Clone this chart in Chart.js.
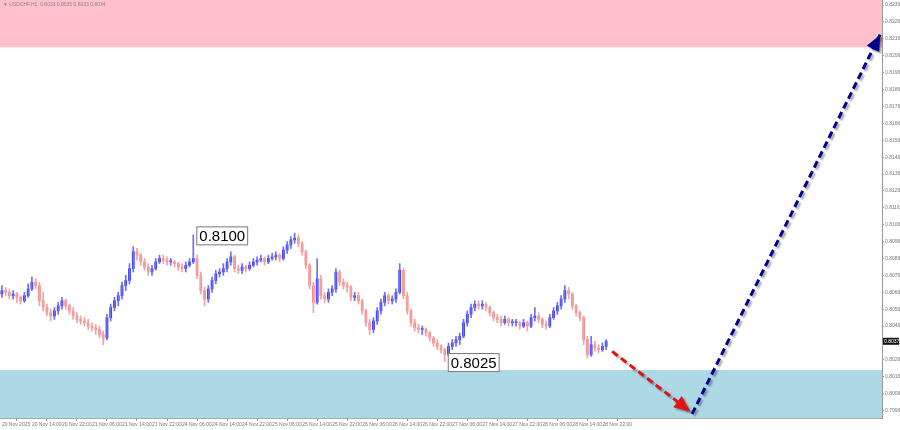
<!DOCTYPE html>
<html>
<head>
<meta charset="utf-8">
<script src="https://cdn.jsdelivr.net/npm/chart.js@4.4.1/dist/chart.umd.min.js"></script>
<style>
  body { margin: 0; background: #fff; }
  #wrap { width: 900px; height: 430px; }
</style>
</head>
<body>
<div id="wrap"><canvas id="myChart" width="900" height="430"></canvas></div>
<script>
// USDCHF H1 candles
const firstOpen = 0.8065;
const closes = [
  0.8067, 0.8066, 0.8064, 0.8065, 0.8063, 0.8061, 0.8064, 0.8068, 0.8072, 0.8070,
  0.8061, 0.8057, 0.8054, 0.8052, 0.8055, 0.8058, 0.8061, 0.8058, 0.8055, 0.8052,
  0.8050, 0.8049, 0.8048, 0.8046, 0.8045, 0.8044, 0.8041, 0.8039, 0.8051, 0.8057,
  0.8061, 0.8064, 0.8070, 0.8073, 0.8080, 0.8090, 0.8088, 0.8084, 0.8081, 0.8078,
  0.8080, 0.8084, 0.8086, 0.8085, 0.8084, 0.8084, 0.8083, 0.8081, 0.8080, 0.8082,
  0.8084, 0.8086, 0.8076, 0.8067, 0.8062, 0.8068, 0.8073, 0.8077, 0.8078, 0.8080,
  0.8084, 0.8087, 0.8080, 0.8079, 0.8081, 0.8080, 0.8082, 0.8084, 0.8085, 0.8086,
  0.8084, 0.8086, 0.8087, 0.8088, 0.8086, 0.8091, 0.8094, 0.8097, 0.8098, 0.8095,
  0.8090, 0.8082, 0.8070, 0.8060, 0.8074, 0.8064, 0.8062, 0.8066, 0.8068, 0.8078,
  0.8072, 0.8070, 0.8069, 0.8063, 0.8064, 0.8061, 0.8055, 0.8048, 0.8044, 0.8049,
  0.8055, 0.8060, 0.8064, 0.8061, 0.8062, 0.8066, 0.8079, 0.8064, 0.8055, 0.8048,
  0.8045, 0.8044, 0.8044, 0.8042, 0.8039, 0.8036, 0.8034, 0.8032, 0.8029, 0.8034,
  0.8036, 0.8038, 0.8040, 0.8048, 0.8053, 0.8057, 0.8059, 0.8058, 0.8059, 0.8057,
  0.8054, 0.8051, 0.8050, 0.8048, 0.8050, 0.8048, 0.8048, 0.8048, 0.8046, 0.8048,
  0.8046, 0.8051, 0.8052, 0.8050, 0.8047, 0.8046, 0.8051, 0.8055, 0.8058, 0.8062,
  0.8067, 0.8065, 0.8058, 0.8054, 0.8051, 0.8038, 0.8029, 0.8035, 0.8033, 0.8032,
  0.8034, 0.8037
];
const highs = [
  0.8070, 0.8069, 0.8068, 0.8067, 0.8066, 0.8064, 0.8066, 0.8071, 0.8075, 0.8074,
  0.8072, 0.8066, 0.8059, 0.8056, 0.8057, 0.8060, 0.8063, 0.8062, 0.8059, 0.8057,
  0.8054, 0.8052, 0.8051, 0.8050, 0.8048, 0.8047, 0.8046, 0.8043, 0.8053, 0.8059,
  0.8063, 0.8066, 0.8072, 0.8076, 0.8083, 0.8093, 0.8092, 0.8089, 0.8086, 0.8083,
  0.8082, 0.8086, 0.8088, 0.8088, 0.8087, 0.8086, 0.8085, 0.8084, 0.8083, 0.8084,
  0.8086, 0.8100, 0.8088, 0.8078, 0.8069, 0.8070, 0.8075, 0.8079, 0.8080, 0.8083,
  0.8086, 0.8090, 0.8088, 0.8082, 0.8083, 0.8082, 0.8084, 0.8086, 0.8087, 0.8088,
  0.8087, 0.8088, 0.8089, 0.8090, 0.8089, 0.8093, 0.8096, 0.8099, 0.8101, 0.8100,
  0.8096, 0.8091, 0.8083, 0.8072, 0.8086, 0.8076, 0.8066, 0.8068, 0.8070, 0.8080,
  0.8079, 0.8074, 0.8072, 0.8070, 0.8066, 0.8066, 0.8062, 0.8056, 0.8050, 0.8051,
  0.8057, 0.8062, 0.8066, 0.8065, 0.8064, 0.8068, 0.8083, 0.8080, 0.8066, 0.8056,
  0.8050, 0.8047, 0.8046, 0.8045, 0.8043, 0.8040, 0.8038, 0.8035, 0.8033, 0.8036,
  0.8038, 0.8040, 0.8042, 0.8050, 0.8055, 0.8059, 0.8061, 0.8061, 0.8061, 0.8060,
  0.8058, 0.8055, 0.8053, 0.8052, 0.8052, 0.8051, 0.8050, 0.8050, 0.8049, 0.8050,
  0.8049, 0.8053, 0.8057, 0.8054, 0.8051, 0.8049, 0.8053, 0.8057, 0.8060, 0.8064,
  0.8070, 0.8069, 0.8066, 0.8059, 0.8055, 0.8052, 0.8040, 0.8040, 0.8037, 0.8035,
  0.8036, 0.8038
];
const lows = [
  0.8063, 0.8064, 0.8062, 0.8062, 0.8060, 0.8059, 0.8060, 0.8063, 0.8067, 0.8068,
  0.8058, 0.8055, 0.8052, 0.8049, 0.8050, 0.8053, 0.8056, 0.8056, 0.8053, 0.8050,
  0.8048, 0.8047, 0.8046, 0.8044, 0.8043, 0.8041, 0.8039, 0.8035, 0.8038, 0.8049,
  0.8055, 0.8058, 0.8062, 0.8067, 0.8071, 0.8078, 0.8085, 0.8082, 0.8079, 0.8076,
  0.8076, 0.8079, 0.8083, 0.8083, 0.8082, 0.8082, 0.8081, 0.8079, 0.8078, 0.8078,
  0.8081, 0.8083, 0.8074, 0.8065, 0.8058, 0.8060, 0.8066, 0.8071, 0.8075, 0.8076,
  0.8078, 0.8082, 0.8078, 0.8077, 0.8077, 0.8078, 0.8079, 0.8081, 0.8082, 0.8084,
  0.8082, 0.8083, 0.8085, 0.8085, 0.8084, 0.8085, 0.8089, 0.8092, 0.8095, 0.8093,
  0.8088, 0.8080, 0.8068, 0.8054, 0.8059, 0.8062, 0.8060, 0.8060, 0.8064, 0.8066,
  0.8070, 0.8068, 0.8066, 0.8061, 0.8061, 0.8059, 0.8053, 0.8046, 0.8041, 0.8042,
  0.8047, 0.8053, 0.8058, 0.8059, 0.8059, 0.8060, 0.8065, 0.8062, 0.8053, 0.8046,
  0.8043, 0.8042, 0.8041, 0.8040, 0.8037, 0.8034, 0.8032, 0.8030, 0.8025, 0.8028,
  0.8032, 0.8034, 0.8035, 0.8039, 0.8046, 0.8051, 0.8055, 0.8056, 0.8056, 0.8055,
  0.8052, 0.8049, 0.8048, 0.8046, 0.8047, 0.8046, 0.8046, 0.8046, 0.8044, 0.8045,
  0.8043, 0.8045, 0.8049, 0.8048, 0.8045, 0.8044, 0.8045, 0.8050, 0.8053, 0.8056,
  0.8060, 0.8062, 0.8056, 0.8052, 0.8049, 0.8035, 0.8027, 0.8028, 0.8031, 0.8030,
  0.8031, 0.8032
];

// one label every 8 bars
const timeLabels = [
  '20 Nov 2025', '20 Nov 14:00', '20 Nov 22:00', '21 Nov 06:00', '21 Nov 14:00',
  '21 Nov 22:00', '24 Nov 06:00', '24 Nov 14:00', '24 Nov 22:00', '25 Nov 06:00',
  '25 Nov 14:00', '25 Nov 22:00', '26 Nov 06:00', '26 Nov 14:00', '26 Nov 22:00',
  '27 Nov 06:00', '27 Nov 14:00', '27 Nov 22:00', '28 Nov 06:00', '28 Nov 14:00',
  '28 Nov 22:00'
];
const priceTicks = [
  0.7996, 0.8006, 0.8016, 0.8026, 0.8036, 0.8046, 0.8056, 0.8066, 0.8076, 0.8086,
  0.8096, 0.8106, 0.8116, 0.8126, 0.8136, 0.8146, 0.8156, 0.8166, 0.8176, 0.8186,
  0.8196, 0.8206, 0.8216, 0.8226, 0.8236
];

// forecast arrows (bar index, price)
const dropPath = [[162.6, 0.8031], [183.4, 0.79955]];
const risePath = [[183.9, 0.7994], [234.0, 0.82185]];

// zones and marked levels
const resistanceZone = [0.8211, 0.8239];
const supportZone = [0.79916, 0.8020];
const marks = [{ bar: 51, price: 0.8100, text: '0.8100' }, { bar: 118, price: 0.8025, text: '0.8025' }];
const lastPrice = 0.8037;
const slots = 235;

// build OHLC rows
const opens = closes.map((c, i) => i === 0 ? firstOpen : closes[i - 1]);
const bodyData = closes.map((c, i) => ({ x: i, y: [opens[i], c] }));
const wickData = closes.map((c, i) => ({ x: i, y: [lows[i], highs[i]] }));
const upColor = i => closes[i] >= opens[i];

function noPad(s) {
    s.paddingTop = 0;
    s.paddingBottom = 0;
    s.paddingLeft = 0;
    s.paddingRight = 0;
}

const zonesPlugin = {
    id: 'zones',
    beforeDatasetsDraw(chart) {
        const { ctx, chartArea: a, scales: { y } } = chart;
        ctx.save();
        ctx.fillStyle = '#ffc0cb';
        let t = y.getPixelForValue(resistanceZone[1]), b = y.getPixelForValue(resistanceZone[0]);
        ctx.fillRect(a.left, Math.max(a.top, t), a.right - a.left, b - Math.max(a.top, t));
        ctx.fillStyle = '#add8e6';
        t = y.getPixelForValue(supportZone[1]);
        b = Math.min(a.bottom, y.getPixelForValue(supportZone[0]));
        ctx.fillRect(a.left, t, a.right - a.left, b - t);
        ctx.restore();
    },
    beforeDatasetDraw(chart, args) {
        if (args.meta.type === 'line') {
            const ctx = chart.ctx;
            ctx.save();
            ctx.shadowColor = 'rgba(0,0,0,0.35)';
            ctx.shadowOffsetX = 2;
            ctx.shadowOffsetY = 2;
            ctx.shadowBlur = 2;
        }
    },
    afterDatasetDraw(chart, args) {
        if (args.meta.type === 'line') {
            const ctx = chart.ctx;
            const pts = args.meta.data;
            const p0 = pts[pts.length - 2], p1 = pts[pts.length - 1];
            const ang = Math.atan2(p1.y - p0.y, p1.x - p0.x);
            ctx.setLineDash([]);
            ctx.fillStyle = args.meta.dataset.options.borderColor;
            ctx.beginPath();
            ctx.moveTo(p1.x, p1.y);
            ctx.lineTo(p1.x - 16 * Math.cos(ang) + 7 * Math.sin(ang), p1.y - 16 * Math.sin(ang) - 7 * Math.cos(ang));
            ctx.lineTo(p1.x - 16 * Math.cos(ang) - 7 * Math.sin(ang), p1.y - 16 * Math.sin(ang) + 7 * Math.cos(ang));
            ctx.closePath();
            ctx.fill();
            ctx.restore();
        }
    },
    afterDraw(chart) {
        const { ctx, chartArea: a, scales: { x, y } } = chart;
        ctx.save();
        // level boxes
        ctx.font = '15px "Liberation Sans", Arial, sans-serif';
        ctx.textBaseline = 'middle';
        marks.forEach(m => {
            const px = x.getPixelForValue(m.bar) + 3;
            const py = y.getPixelForValue(m.price) + 1;
            const w = ctx.measureText(m.text).width + 5;
            ctx.fillStyle = '#fff';
            ctx.fillRect(px, py - 9.5, w, 19);
            ctx.strokeStyle = '#777';
            ctx.lineWidth = 1;
            ctx.strokeRect(px + 0.5, py - 9, w, 18);
            ctx.fillStyle = '#000';
            ctx.fillText(m.text, px + 3, py + 1);
        });
        // header
        ctx.font = '5px "Liberation Sans", sans-serif';
        ctx.fillStyle = '#888';
        ctx.textBaseline = 'middle';
        ctx.fillText('\u25BC USDCHF,H1  0.8033 0.8035 0.8033 0.8034', 3, 5);
        // last price tag
        const ly = y.getPixelForValue(lastPrice);
        ctx.fillStyle = '#111';
        ctx.fillRect(a.right + 1, ly - 3.5, 16, 7);
        ctx.fillStyle = '#fff';
        ctx.fillText(lastPrice.toFixed(4), a.right + 2, ly);
        ctx.restore();
    }
};

const ctx = document.getElementById('myChart').getContext('2d');
const myChart = new Chart(ctx, {
    type: 'bar',
    data: {
        datasets: [
            {
                label: 'wicks',
                data: wickData,
                grouped: false,
                barThickness: 1,
                backgroundColor: wickData.map((d, i) => upColor(i) ? '#6f6ff5' : '#f4a3a3'),
                borderWidth: 0
            },
            {
                label: 'bodies',
                data: bodyData,
                grouped: false,
                barThickness: 2,
                minBarLength: 1,
                backgroundColor: bodyData.map((d, i) => upColor(i) ? '#1414f0' : '#f08282'),
                borderWidth: 0
            },
            {
                type: 'line',
                label: 'drop',
                data: dropPath.map(p => ({ x: p[0], y: p[1] })),
                borderColor: '#e01414',
                borderWidth: 3,
                borderDash: [7, 4],
                pointRadius: 0,
                fill: false
            },
            {
                type: 'line',
                label: 'rise',
                data: risePath.map(p => ({ x: p[0], y: p[1] })),
                borderColor: '#00008b',
                borderWidth: 3,
                borderDash: [7, 4],
                pointRadius: 0,
                fill: false
            }
        ]
    },
    options: {
        responsive: false,
        animation: false,
        devicePixelRatio: 1,
        layout: { padding: 0 },
        plugins: { legend: { display: false }, tooltip: { enabled: false } },
        scales: {
            x: {
                type: 'linear',
                min: -0.5,
                max: slots - 0.5,
                offset: false,
                afterBuildTicks: s => { s.ticks = timeLabels.map((t, k) => ({ value: k * 8 })); },
                afterFit: s => { s.height = 12; noPad(s); },
                ticks: {
                    autoSkip: false,
                    maxRotation: 0,
                    align: 'start',
                    padding: 1,
                    color: '#777',
                    font: { size: 5, family: '"Liberation Sans", sans-serif' },
                    callback: v => timeLabels[v / 8]
                },
                grid: { drawOnChartArea: false, tickLength: 3, color: '#999' },
                border: { color: '#aaa' }
            },
            y: {
                position: 'right',
                min: supportZone[0],
                max: resistanceZone[1],
                beginAtZero: false,
                afterBuildTicks: s => { s.ticks = priceTicks.map(v => ({ value: v })); },
                afterFit: s => { s.width = 18; noPad(s); },
                ticks: {
                    padding: 1,
                    color: '#777',
                    font: { size: 5, family: '"Liberation Sans", sans-serif' },
                    callback: v => v.toFixed(4)
                },
                grid: { drawOnChartArea: false, tickLength: 2, color: '#999' },
                border: { color: '#999' }
            }
        }
    },
    plugins: [zonesPlugin]
});
</script>
</body>
</html>
